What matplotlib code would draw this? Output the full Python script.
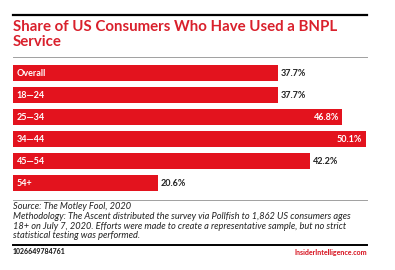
import matplotlib
matplotlib.use("Agg")
import matplotlib.pyplot as plt
from matplotlib.lines import Line2D

categories = ["Overall", "18\u201424", "25\u201434", "34\u201444", "45\u201454", "54+"]
values = [37.7, 37.7, 46.8, 50.1, 42.2, 20.6]
value_labels = ["37.7%", "37.7%", "46.8%", "50.1%", "42.2%", "20.6%"]
inside_value = [False, False, True, True, False, False]

title = "Share of US Consumers Who Have Used a BNPL\nService"
source = "Source: The Motley Fool, 2020"
method = ("Methodology: The Ascent distributed the survey via Pollfish to 1,862 US consumers ages\n"
          "18+ on July 7, 2020. Efforts were made to create a representative sample, but no strict\n"
          "statistical testing was performed.")
chart_id = "1026649784761"
brand = "InsiderIntelligence.com"

RED = "#e3131e"
TRED = "#d9202c"
W, H = 395, 270
plt.rcParams['font.family'] = ['Lato', 'DejaVu Sans']

fig = plt.figure(figsize=(W / 100, H / 100), dpi=100)
fig.patch.set_facecolor("white")

def fx(x): return x / W
def fy(y): return 1 - y / H

L, R = 13, 367
fig.add_artist(Line2D([fx(L), fx(R)], [fy(15), fy(15)], color="black", lw=1.6))
fig.add_artist(Line2D([fx(L), fx(R)], [fy(57), fy(57)], color="#a0a0a0", lw=0.7))
fig.add_artist(Line2D([fx(L), fx(R)], [fy(200), fy(200)], color="#a0a0a0", lw=0.7))
fig.add_artist(Line2D([fx(L), fx(R)], [fy(245), fy(245)], color="black", lw=1.4))

fig.text(fx(L), fy(20), title, color=TRED, fontsize=10.8, fontweight="bold",
         va="top", ha="left", linespacing=1.05)

ax = fig.add_axes([fx(L), fy(194), fx(R - L), (194 - 62) / H])
y = list(range(len(categories)))
ax.barh(y, values, height=0.7, color=RED, align="center")
ax.set_xlim(0, 50.3)
ax.set_ylim(len(categories) - 0.5, -0.5)
ax.axis("off")
for i, (c, v, lab, ins) in enumerate(zip(categories, values, value_labels, inside_value)):
    ax.text(0.5, i, c, color="white", fontsize=6.5, fontweight="bold", va="center", ha="left")
    if ins:
        ax.text(v - 0.5, i, lab, color="white", fontsize=6.5, fontweight="bold", va="center", ha="right")
    else:
        ax.text(v + 0.4, i, lab, color="#222222", fontsize=6.5, fontweight="bold", va="center", ha="left")

fig.text(fx(L), fy(202), source, fontsize=6.7, style="italic", color="#222222", va="top", ha="left")
fig.text(fx(L), fy(212), method, fontsize=6.7, style="italic", color="#222222", va="top", ha="left",
         linespacing=1.1)
fig.text(fx(L), fy(252), chart_id, fontsize=5, fontweight="black", color="#222222", va="center", ha="left")
fig.text(fx(R), fy(252), brand, fontsize=5, fontweight="black", color=TRED, va="center", ha="right")

fig.savefig("out.png", dpi=100, facecolor="white")
